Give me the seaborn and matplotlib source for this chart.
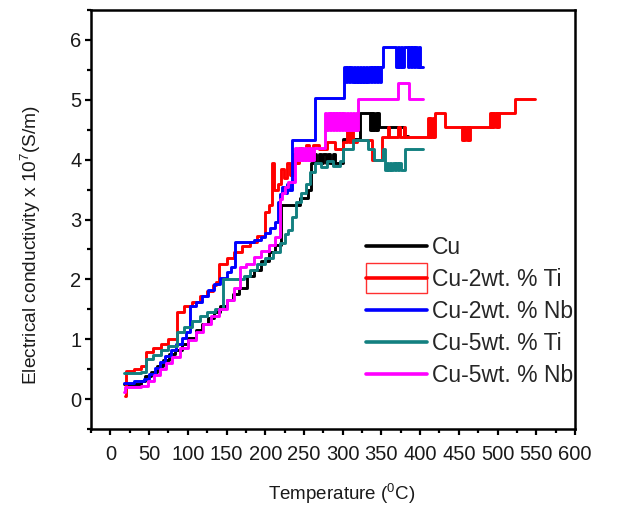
import matplotlib
matplotlib.use("Agg")
import matplotlib.pyplot as plt
import seaborn as sns
import pandas as pd
from matplotlib.lines import Line2D
from matplotlib.patches import Rectangle
from matplotlib.legend_handler import HandlerTuple, HandlerPatch
from matplotlib.ticker import MultipleLocator

series_names = ["Cu", "Cu-2wt. % Ti", "Cu-2wt. % Nb", "Cu-5wt. % Ti", "Cu-5wt. % Nb"]
colors = ["#000000", "#ff0000", "#0000ff", "#138080", "#ff00ff"]

# (Temperature in C, conductivity x 1e7 S/m), step-wise readings
cu_pts = [(18, 0.25), (30, 0.26), (40, 0.3), (45, 0.38), (52, 0.45), (60, 0.55), (68, 0.65),
          (76, 0.75), (84, 0.82), (92, 0.92), (100, 1.02), (110, 1.15), (118, 1.25), (126, 1.35),
          (134, 1.45), (142, 1.55), (150, 1.65), (158, 1.75), (166, 1.85), (176, 2.05), (185, 2.15),
          (195, 2.3), (205, 2.45), (212, 2.57), (220, 3.25), (245, 3.36), (255, 3.5), (259, 3.95),
          (263, 4.1), (266, 3.95), (269, 4.1), (272, 3.95), (275, 4.1), (278, 3.95), (281, 4.1),
          (284, 3.95), (287, 4.1), (290, 3.95), (300, 4.35), (322, 4.78), (335, 4.5), (336.5, 4.78),
          (338, 4.5), (339.5, 4.78), (341, 4.5), (342.5, 4.78), (344, 4.5), (345.5, 4.78),
          (347, 4.55), (379, 4.4), (384, 4.4)]

ti2_pts = [(19.5, 0.05), (20, 0.47), (30, 0.5), (40, 0.55), (46, 0.78), (55, 0.85), (65, 0.92),
           (75, 1.0), (86, 1.45), (95, 1.55), (105, 1.62), (116, 1.72), (125, 1.8), (133, 1.9),
           (136, 1.95), (140, 2.25), (150, 2.35), (160, 2.45), (170, 2.55), (180, 2.62), (190, 2.72),
           (200, 3.13), (205, 3.25), (209, 3.95), (211, 3.5), (216, 3.6), (220, 3.85), (224, 3.7),
           (228, 3.95), (232, 3.75), (236, 4.1), (240, 3.95), (244, 4.2), (248, 4.05), (252, 4.25),
           (256, 4.1), (262, 4.25), (270, 4.17), (280, 4.3), (290, 4.17), (300, 4.3), (306, 4.55),
           (308, 4.3), (311, 4.55), (313, 4.3), (318, 4.33), (338, 4.0), (351, 4.37), (358, 4.55),
           (360, 4.37), (372, 4.55), (374, 4.37), (379, 4.55), (381, 4.37), (410, 4.7), (411.5, 4.37),
           (413, 4.7), (414.5, 4.37), (416, 4.7), (417.5, 4.37), (419, 4.78), (432, 4.55), (454, 4.33),
           (455.5, 4.55), (457, 4.33), (458.5, 4.55), (460, 4.33), (461.5, 4.55), (463, 4.33),
           (464.5, 4.55), (490, 4.78), (491.5, 4.55), (493, 4.78), (494.5, 4.55), (496, 4.78),
           (497.5, 4.55), (499, 4.78), (500.5, 4.55), (502, 4.78), (523, 5.02), (548, 5.02)]

nb2_pts = [(18, 0.27), (30, 0.3), (43, 0.33), (50, 0.42), (57, 0.52), (64, 0.62), (71, 0.72),
           (78, 0.82), (85, 0.92), (92, 1.02), (98, 1.12), (103, 1.55), (110, 1.62), (118, 1.72),
           (126, 1.82), (134, 1.92), (142, 2.02), (150, 2.12), (156, 2.2), (161, 2.63), (185, 2.65),
           (194, 2.7), (200, 2.78), (206, 2.86), (212, 2.95), (216, 3.3), (219, 3.42), (222, 3.55),
           (225, 3.45), (228, 3.6), (231, 3.5), (234, 4.33), (264, 5.03), (302, 5.55), (304, 5.3),
           (306, 5.55), (308, 5.3), (310, 5.55), (312, 5.3), (314, 5.55), (316, 5.3), (318, 5.55),
           (320, 5.3), (322, 5.55), (324, 5.3), (326, 5.55), (328, 5.3), (330, 5.55), (332, 5.3),
           (334, 5.55), (336, 5.3), (338, 5.55), (340, 5.3), (342, 5.55), (344, 5.3), (346, 5.55),
           (348, 5.3), (350, 5.55), (352, 5.88), (369, 5.55), (371, 5.88), (373, 5.55), (375, 5.88),
           (377, 5.55), (379, 5.88), (384, 5.55), (386, 5.88), (388, 5.55), (390, 5.88), (392, 5.55),
           (394, 5.88), (396, 5.55), (398, 5.88), (400, 5.55), (404, 5.55)]

ti5_pts = [(18, 0.43), (40, 0.45), (46, 0.67), (55, 0.74), (65, 0.82), (75, 0.88), (86, 1.12),
           (95, 1.2), (105, 1.3), (116, 1.38), (125, 1.45), (135, 1.5), (146, 2.0), (172, 2.05),
           (180, 2.15), (190, 2.25), (200, 2.35), (210, 2.45), (219, 2.6), (225, 2.75), (230, 2.83),
           (235, 3.05), (240, 3.3), (246, 3.45), (252, 3.6), (258, 3.8), (264, 3.95), (272, 3.88),
           (280, 3.97), (288, 3.9), (296, 3.97), (300, 4.17), (313, 4.33), (333, 4.17), (340, 4.0),
           (352, 4.17), (355, 3.83), (357, 3.95), (359, 3.83), (361, 3.95), (363, 3.83), (365, 3.95),
           (367, 3.83), (369, 3.95), (371, 3.83), (373, 3.95), (375, 3.83), (381, 4.17), (404, 4.17)]

nb5_pts = [(18, 0.12), (18.5, 0.2), (30, 0.2), (40, 0.22), (48, 0.3), (56, 0.4), (64, 0.5),
           (72, 0.6), (80, 0.7), (90, 0.85), (100, 0.98), (110, 1.12), (120, 1.25), (130, 1.38),
           (140, 1.5), (150, 1.65), (160, 1.85), (167, 2.0), (168, 2.2), (175, 2.25), (185, 2.37),
           (195, 2.48), (205, 2.58), (212, 2.7), (219, 3.35), (222, 3.45), (226, 3.55), (230, 3.62),
           (239, 4.2), (241, 4.0), (243, 4.2), (245, 4.0), (247, 4.2), (249, 4.0), (251, 4.2),
           (253, 4.0), (255, 4.2), (257, 4.0), (259, 4.2), (261, 4.0), (263, 4.2), (277, 4.78),
           (279, 4.5), (281, 4.78), (283, 4.5), (285, 4.78), (287, 4.5), (289, 4.78), (291, 4.5),
           (293, 4.78), (295, 4.5), (297, 4.78), (299, 4.5), (301, 4.78), (303, 4.5), (305, 4.78),
           (307, 4.5), (309, 4.78), (311, 4.5), (313, 4.78), (315, 4.5), (317, 4.78), (319, 4.5),
           (320, 5.02), (372, 5.28), (385, 5.02), (404, 5.02)]

all_pts = [cu_pts, ti2_pts, nb2_pts, ti5_pts, nb5_pts]

sns.set_style("ticks")
plt.rcParams["font.family"] = ["Liberation Sans", "DejaVu Sans"]
plt.rcParams["mathtext.fontset"] = "custom"
plt.rcParams["mathtext.rm"] = "Liberation Sans"
plt.rcParams["mathtext.it"] = "Liberation Sans:italic"

fig = plt.figure(figsize=(6.39, 5.09), dpi=100)
ax = fig.add_axes([91 / 639, 1 - 429 / 509, 484 / 639, 419 / 509])

for name, col, pts in zip(series_names, colors, all_pts):
    df = pd.DataFrame(pts, columns=["T", "S"])
    sns.lineplot(data=df, x="T", y="S", color=col, lw=2.1, drawstyle="steps-post",
                 estimator=None, sort=False, legend=False, ax=ax)

ax.set_xlim(-25, 600)
ax.set_ylim(-0.5, 6.5)
ax.xaxis.set_major_locator(MultipleLocator(50))
ax.xaxis.set_minor_locator(MultipleLocator(25))
ax.yaxis.set_major_locator(MultipleLocator(1))
ax.yaxis.set_minor_locator(MultipleLocator(0.5))
for sp in ax.spines.values():
    sp.set_visible(True)
    sp.set_linewidth(1.8)
    sp.set_color("black")
ax.tick_params(which="major", direction="out", length=4.5, width=1.6, labelsize=14.5,
               color="black", labelcolor="#1a1a1a", top=False, right=False, pad=2.5)
ax.tick_params(which="minor", direction="out", length=3, width=1.6, color="black",
               top=False, right=False)
ax.tick_params(axis="x", which="major", pad=7)

ax.set_xlabel("Temperature ($^0$C)", fontsize=13.5, color="#1a1a1a")
ax.set_ylabel("Electrical conductivity x 10$^7$(S/m)", fontsize=13.8, color="#1a1a1a")
ax.xaxis.set_label_coords(0.519, -0.127)
ax.yaxis.set_label_coords(-0.10, 0.44)


def tall_rect(legend, orig_handle, xdescent, ydescent, width, height, fontsize):
    extra = 5.0
    return Rectangle((-xdescent, -ydescent - extra), width, height + 2 * extra)


handles = []
for name, col in zip(series_names, colors):
    line = Line2D([], [], color=col, lw=2.6)
    if name == "Cu-2wt. % Ti":
        box = Rectangle((0, 0), 1, 1, facecolor="none", edgecolor="#ff3030", lw=1.0)
        handles.append((box, line))
    else:
        handles.append(line)

ax.legend(handles, series_names, loc="upper left", bbox_to_anchor=(0.568, 0.46),
          frameon=False, fontsize=16.5, handlelength=2.66, handletextpad=0.22,
          labelspacing=0.39, borderpad=0, borderaxespad=0,
          handler_map={tuple: HandlerTuple(ndivide=1, pad=0),
                       Rectangle: HandlerPatch(patch_func=tall_rect)})

fig.savefig("out.png", dpi=100)
